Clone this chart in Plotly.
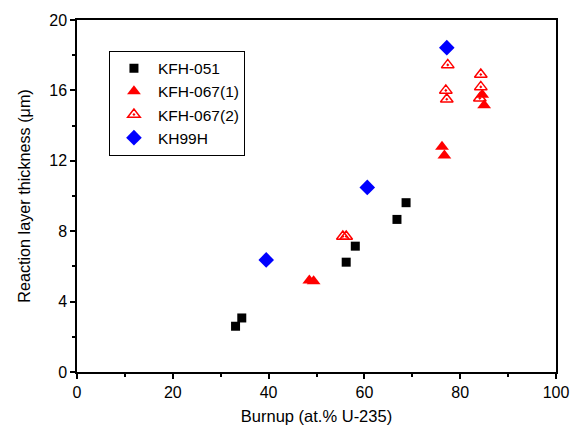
import plotly.graph_objects as go

# KFH-051 (black squares)
kfh051_x = [33.1, 34.4, 56.2, 58.1, 66.8, 68.7]
kfh051_y = [2.6, 3.07, 6.24, 7.15, 8.67, 9.62]

# KFH-067(1) (filled red triangles)
kfh0671_x = [48.5, 49.4, 76.2, 76.7, 84.6, 85.0]
kfh0671_y = [5.2, 5.15, 12.8, 12.3, 15.75, 15.15]

# KFH-067(2) (open red triangles)
kfh0672_x = [55.5, 56.2, 77.4, 77.0, 77.2, 84.3, 84.3, 84.1]
kfh0672_y = [7.7, 7.7, 17.45, 16.0, 15.5, 16.9, 16.2, 15.55]

# KH99H (blue diamonds)
kh99h_x = [39.5, 60.6, 77.2]
kh99h_y = [6.37, 10.49, 18.43]

font = "Liberation Sans, Arial, sans-serif"

fig = go.Figure()
fig.add_trace(go.Scatter(x=kfh051_x, y=kfh051_y, mode="markers", name="KFH-051",
                         marker=dict(symbol="square", size=9, color="black")))
fig.add_trace(go.Scatter(x=kfh0671_x, y=kfh0671_y, mode="markers", name="KFH-067(1)",
                         marker=dict(symbol="triangle-up", size=12, color="#ff0000")))
fig.add_trace(go.Scatter(x=kfh0672_x, y=kfh0672_y, mode="markers", name="KFH-067(2)",
                         marker=dict(symbol="triangle-up-open-dot", size=11, color="#ff0000",
                                     line=dict(width=1.5, color="#ff0000"))))
fig.add_trace(go.Scatter(x=kh99h_x, y=kh99h_y, mode="markers", name="KH99H",
                         marker=dict(symbol="diamond", size=12, color="#0000ff")))

axis_common = dict(
    showgrid=False, zeroline=False, showline=True, linecolor="black", linewidth=1.5,
    mirror=True, ticks="outside", ticklen=5, tickwidth=1.5, tickcolor="black",
    tickfont=dict(family=font, size=16, color="black"),
)

fig.update_xaxes(range=[0, 100], tickmode="linear", tick0=0, dtick=20,
                 minor=dict(dtick=10, ticks="outside", ticklen=3, tickwidth=1.5, tickcolor="black"),
                 title=dict(text="Burnup (at.% U-235)", font=dict(family=font, size=16.5, color="black"), standoff=10),
                 **axis_common)
fig.update_yaxes(range=[0, 20], tickmode="linear", tick0=0, dtick=4,
                 minor=dict(dtick=2, ticks="outside", ticklen=3, tickwidth=1.5, tickcolor="black"),
                 title=dict(text="Reaction layer thickness (μm)", font=dict(family=font, size=16.2, color="black"), standoff=15),
                 **axis_common)

fig.update_layout(
    width=581, height=435,
    margin=dict(l=77, r=24, t=18, b=61),
    plot_bgcolor="white", paper_bgcolor="white",
    legend=dict(x=0.0667, y=0.913, xanchor="left", yanchor="top",
                bordercolor="black", borderwidth=1, bgcolor="white",
                font=dict(family=font, size=15.5, color="black"),
                itemwidth=38, tracegroupgap=0),
    showlegend=True,
)

# remove the default page margin so the figure sits at the top-left corner
fig.write_html("out.html",
               config={"displayModeBar": False},
               post_script="document.body.style.margin='0';document.body.style.overflow='hidden';")
